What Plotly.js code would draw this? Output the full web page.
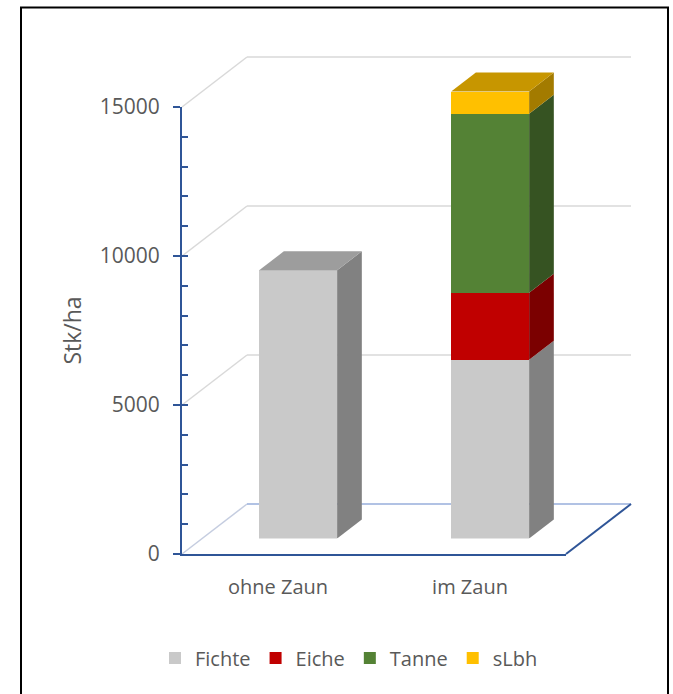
<!DOCTYPE html>
<html>
<head>
<meta charset="utf-8">
<script src="https://cdn.plot.ly/plotly-3.0.1.min.js"></script>
<style>
  html, body { margin: 0; padding: 0; background: #ffffff; }
  #chart { width: 673px; height: 694px; }
</style>
</head>
<body>
<div id="chart"></div>
<script>
// Stems per hectare, without and inside the fence
const categories = ['ohne Zaun', 'im Zaun'];
const seriesNames = ['Fichte', 'Eiche', 'Tanne', 'sLbh'];
const fichte = [9000, 6000];
const eiche = [0, 2250];
const tanne = [0, 6000];
const slbh = [0, 750];
const yTickValues = [0, 5000, 10000, 15000];

const seriesValues = [fichte, eiche, tanne, slbh];
const seriesColors = ['#C9C9C9', '#C00000', '#548235', '#FFC000'];

// ---- oblique "3-D" geometry (pixels) ----
const W = 673, H = 694;
const ORIGIN_X = 182, ORIGIN_Y = 554;     // front-left corner of the floor
const CAT_PX = 192;                        // width of one category slot
const PX_PER_VAL = 447 / 15000;            // vertical scale
const DEPTH_X = 65, DEPTH_Y = 50;          // full floor depth, projected
const BAR_FRONT = 0.31, BAR_DEPTH = 0.38;  // bar position within the depth
const BAR_WIDTH = 0.406;
const AXIS_BLUE = '#2F5597';
const TEXT_GREY = '#595959';
const FONT = 'Open Sans, Lato, sans-serif';

function xDom(leftPx, rightPx, originPx) {
  return {
    domain: [leftPx / W, rightPx / W],
    range: [-0.5 + (leftPx - originPx) / CAT_PX, -0.5 + (rightPx - originPx) / CAT_PX]
  };
}
function yDom(bottomPx, topPx, originPx) {
  return {
    domain: [1 - bottomPx / H, 1 - topPx / H],
    range: [(originPx - bottomPx) / PX_PER_VAL, (originPx - topPx) / PX_PER_VAL]
  };
}
function shade(hex, f) {
  const n = parseInt(hex.slice(1), 16);
  const c = [(n >> 16) & 255, (n >> 8) & 255, n & 255].map(v => Math.round(v * f));
  return 'rgb(' + c.join(',') + ')';
}

const hidden = {
  showgrid: false, zeroline: false, showline: false, showticklabels: false,
  ticks: '', fixedrange: true
};

// front plane of the bars
const barOx = ORIGIN_X + BAR_FRONT * DEPTH_X;
const barOy = ORIGIN_Y - BAR_FRONT * DEPTH_Y;

const traces = seriesNames.map((name, s) => ({
  type: 'bar',
  name: name,
  x: categories.map((_, i) => i),
  y: seriesValues[s],
  width: BAR_WIDTH,
  xaxis: 'x3',
  yaxis: 'y3',
  marker: { color: seriesColors[s], line: { width: 0 } },
  hoverinfo: 'skip'
}));

// empty carriers so the front axes get drawn
['y2', 'y4'].forEach(ya => traces.push({
  type: 'scatter', mode: 'markers', xaxis: 'x2', yaxis: ya,
  x: categories.map((_, i) => i), y: [0, 0],
  marker: { opacity: 0 }, showlegend: false, hoverinfo: 'skip'
}));

const shapes = [];

// back wall and floor (subplot x/y, full depth)
const dxF = DEPTH_X / CAT_PX, dyF = DEPTH_Y / PX_PER_VAL;
yTickValues.forEach(v => {
  const isFloor = v === 0;
  shapes.push({
    type: 'path', xref: 'x', yref: 'y', layer: 'below',
    path: `M ${-0.5},${v} L ${-0.5 + dxF},${v + dyF}`,
    line: { color: isFloor ? '#C5CDE0' : '#D9D9D9', width: 1.5 }
  });
  shapes.push({
    type: 'path', xref: 'x', yref: 'y', layer: 'below',
    path: `M ${-0.5 + dxF},${v + dyF} L ${1.5 + dxF},${v + dyF}`,
    line: { color: isFloor ? '#97AEDB' : '#D9D9D9', width: 1.5 }
  });
});
shapes.push({
  type: 'path', xref: 'x', yref: 'y', layer: 'below',
  path: `M 1.5,0 L ${1.5 + dxF},${dyF}`,
  line: { color: AXIS_BLUE, width: 2 }
});

// side and top faces of the stacked bars
const dxU = (BAR_DEPTH * DEPTH_X) / CAT_PX;
const dyU = (BAR_DEPTH * DEPTH_Y) / PX_PER_VAL;
categories.forEach((_, i) => {
  const xl = i - BAR_WIDTH / 2, xr = i + BAR_WIDTH / 2;
  let base = 0, topColor = null;
  seriesValues.forEach((vals, s) => {
    const v = vals[i];
    if (!v) return;
    const b = base, t = base + v;
    shapes.push({
      type: 'path', xref: 'x3', yref: 'y3', layer: 'above',
      path: `M ${xr},${b} L ${xr + dxU},${b + dyU} L ${xr + dxU},${t + dyU} L ${xr},${t} Z`,
      fillcolor: shade(seriesColors[s], 0.64), line: { width: 0 }
    });
    base = t;
    topColor = seriesColors[s];
  });
  if (topColor) {
    shapes.push({
      type: 'path', xref: 'x3', yref: 'y3', layer: 'above',
      path: `M ${xl},${base} L ${xr},${base} L ${xr + dxU},${base + dyU} L ${xl + dxU},${base + dyU} Z`,
      fillcolor: shade(topColor, 0.78), line: { width: 0 }
    });
  }
});

// chart frame
shapes.push({
  type: 'rect', xref: 'paper', yref: 'paper', layer: 'above',
  x0: 21 / W, x1: 668 / W, y0: -0.05, y1: 1 - 7.5 / H,
  line: { color: '#000000', width: 2 }, fillcolor: 'rgba(0,0,0,0)'
});

const layout = {
  width: W, height: H,
  margin: { l: 0, r: 0, t: 0, b: 0, pad: 0 },
  paper_bgcolor: '#ffffff',
  plot_bgcolor: 'rgba(0,0,0,0)',
  showlegend: true,
  barmode: 'stack',
  hovermode: false,
  font: { family: FONT, color: TEXT_GREY, size: 20 },

  // full-depth frame for wall and floor
  xaxis: Object.assign({}, hidden, xDom(170, 645, ORIGIN_X), { anchor: 'y' }),
  yaxis: Object.assign({}, hidden, yDom(562, 45, ORIGIN_Y), { anchor: 'x' }),

  // visible front axes
  xaxis2: Object.assign({}, xDom(ORIGIN_X, ORIGIN_X + 2 * CAT_PX, ORIGIN_X), {
    anchor: 'y2', showgrid: false, zeroline: false,
    showline: true, linecolor: AXIS_BLUE, linewidth: 2,
    ticks: '', tickmode: 'array',
    tickvals: categories.map((_, i) => i), ticktext: categories,
    tickfont: { family: FONT, size: 20, color: TEXT_GREY },
    ticklabelstandoff: 14, fixedrange: true
  }),
  yaxis2: Object.assign({}, yDom(ORIGIN_Y, ORIGIN_Y - 15000 * PX_PER_VAL, ORIGIN_Y), {
    anchor: 'x2', showgrid: false, zeroline: false,
    showline: true, linecolor: AXIS_BLUE, linewidth: 2,
    ticks: 'outside', ticklen: 7, tickwidth: 2, tickcolor: AXIS_BLUE,
    tickmode: 'array', tickvals: yTickValues, ticktext: yTickValues.map(String),
    tickfont: { family: FONT, size: 21, color: TEXT_GREY },
    ticklabelstandoff: 9,
    title: { text: 'Stk/ha', font: { family: FONT, size: 23, color: TEXT_GREY }, standoff: 12 },
    fixedrange: true
  }),
  // inner tick marks every 1000
  yaxis4: {
    overlaying: 'y2', anchor: 'x2', side: 'left',
    range: [0, 15000], showgrid: false, zeroline: false, showline: false,
    showticklabels: false, ticks: 'inside', ticklen: 6, tickwidth: 2,
    tickcolor: AXIS_BLUE, tickmode: 'linear', tick0: 0, dtick: 1000, fixedrange: true
  },

  // bar plane, set back from the front edge
  xaxis3: Object.assign({}, hidden, xDom(barOx, 645, barOx), { anchor: 'y3' }),
  yaxis3: Object.assign({}, hidden, yDom(barOy, 45, barOy), { anchor: 'x3' }),

  legend: {
    orientation: 'h', traceorder: 'normal',
    x: 349 / W, xanchor: 'center',
    y: 1 - 658 / H, yanchor: 'middle',
    font: { family: FONT, size: 20, color: TEXT_GREY },
    itemwidth: 30, bgcolor: 'rgba(0,0,0,0)'
  },
  shapes: shapes
};

Plotly.newPlot('chart', traces, layout, { displayModeBar: false, staticPlot: true });
</script>
</body>
</html>
